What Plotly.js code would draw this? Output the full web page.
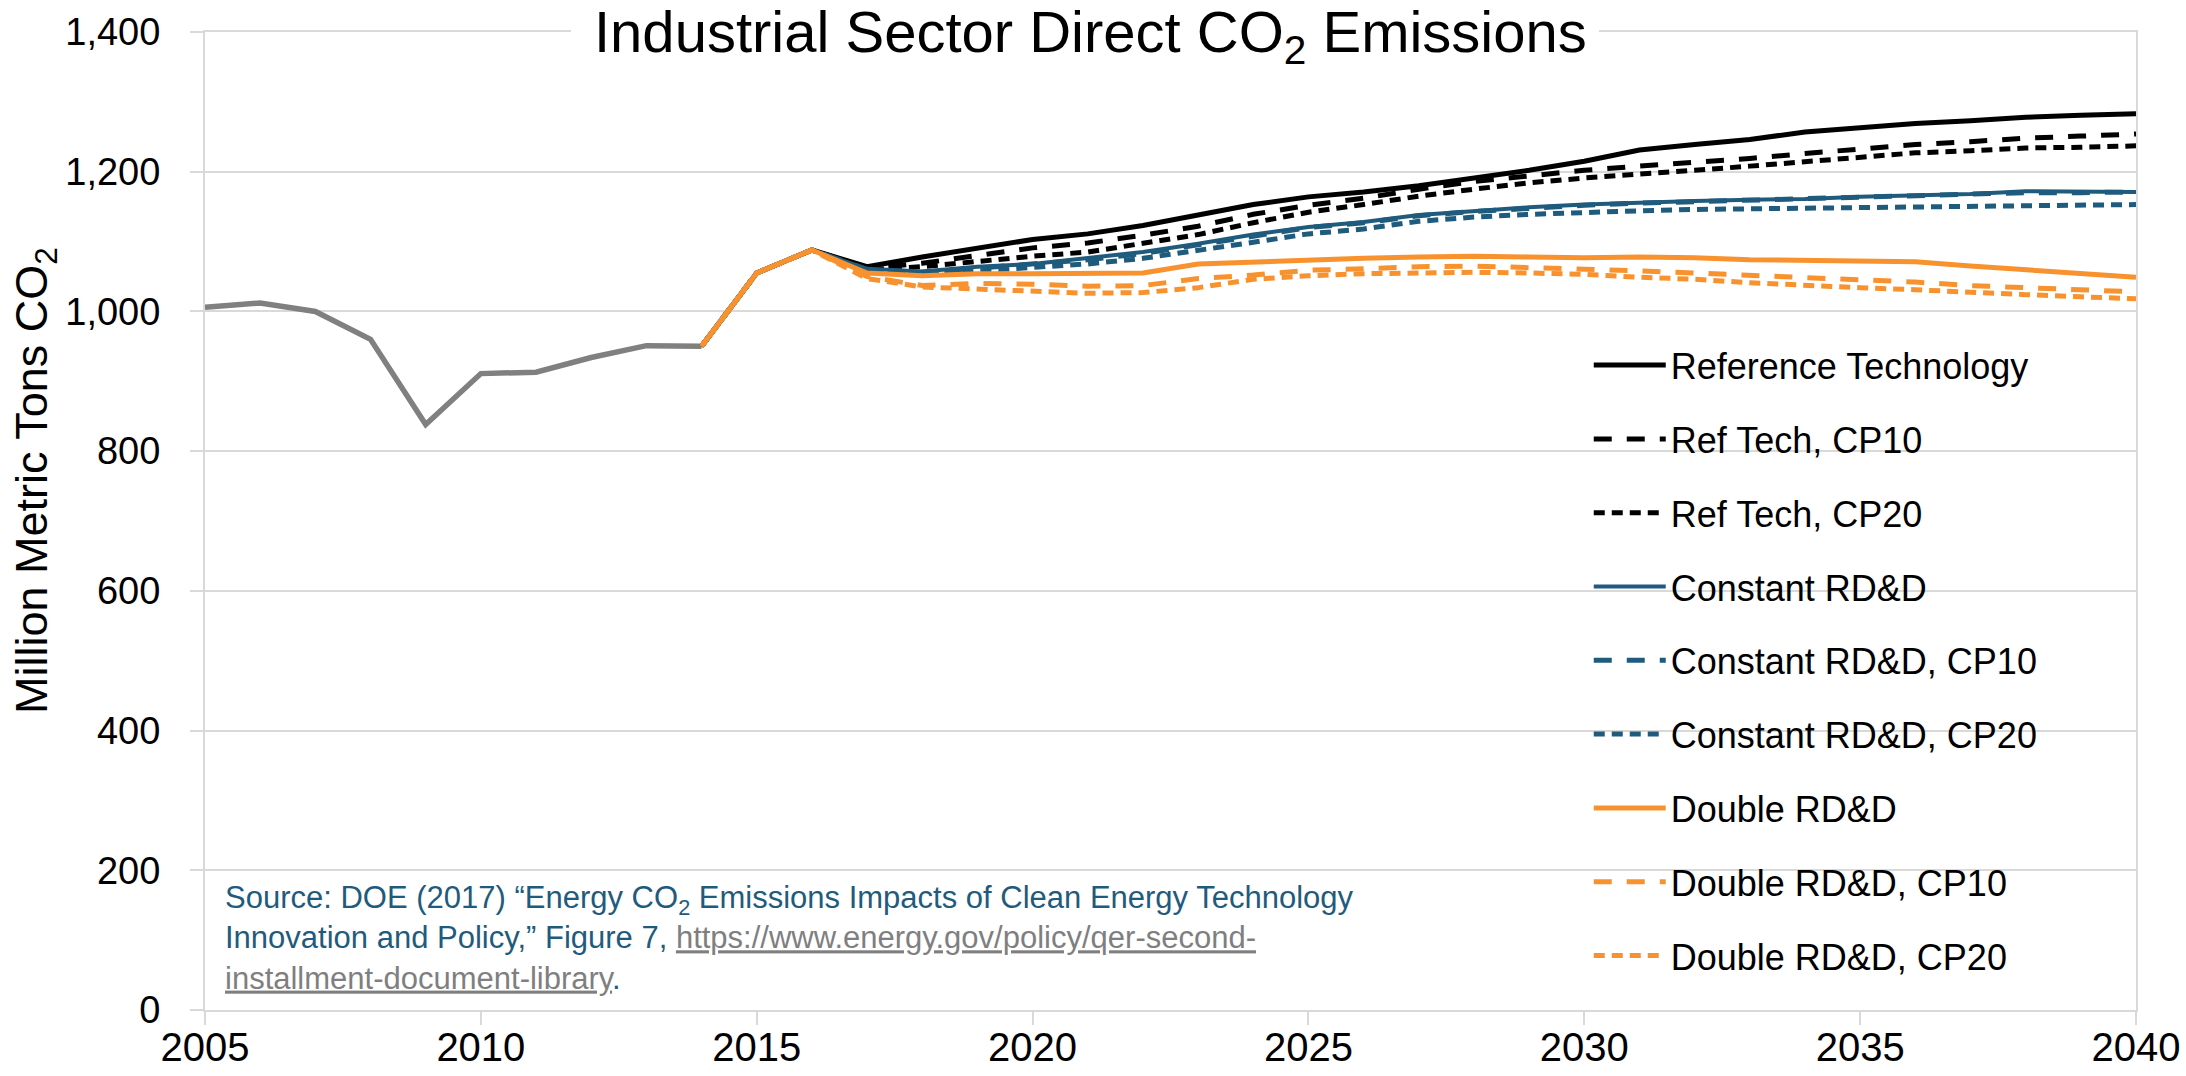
<!DOCTYPE html>
<html>
<head>
<meta charset="utf-8">
<script src="https://cdn.plot.ly/plotly-3.0.1.min.js"></script>
<style>html,body{margin:0;padding:0;background:#fff;}#chart{width:2186px;height:1076px;}</style>
</head>
<body>
<div id="chart"></div>
<script>
// ---- Data ----
var histYears = [2005,2006,2007,2008,2009,2010,2011,2012,2013,2014];
var histValues = [1006,1012,1000,960,838,911,913,934,951,950];

var scenYears = [2014,2015,2016,2017,2018,2019,2020,2021,2022,2023,2024,2025,2026,2027,2028,2029,2030,2031,2032,2033,2034,2035,2036,2037,2038,2039,2040];

var refTech     = [950,1055,1088,1064,1078,1091,1103,1111,1123,1138,1153,1164,1171,1180,1191,1202,1215,1231,1239,1246,1257,1263,1269,1273,1278,1281,1283];
var refCP10     = [950,1055,1088,1062,1069,1080,1091,1098,1109,1122,1139,1152,1162,1175,1186,1194,1202,1208,1213,1219,1226,1232,1239,1243,1248,1251,1254];
var refCP20     = [950,1055,1088,1060,1064,1072,1079,1085,1097,1110,1127,1142,1153,1165,1175,1184,1191,1196,1202,1208,1214,1221,1227,1230,1234,1235,1237];
var constRDD    = [950,1055,1088,1061,1057,1064,1068,1076,1085,1097,1110,1121,1128,1138,1144,1149,1153,1156,1158,1160,1161,1164,1166,1168,1172,1171,1171];
var constCP10   = [950,1055,1088,1060,1056,1062,1067,1074,1083,1095,1108,1120,1127,1137,1143,1148,1152,1155,1157,1159,1161,1163,1165,1167,1170,1170,1171];
var constCP20   = [950,1055,1088,1058,1055,1058,1063,1068,1076,1087,1099,1111,1118,1129,1135,1139,1142,1144,1146,1147,1148,1149,1150,1151,1152,1152,1153];
var doubleRDD   = [950,1055,1088,1055,1051,1054,1054,1054,1055,1068,1071,1073,1076,1078,1079,1078,1077,1078,1077,1074,1073,1072,1071,1065,1060,1055,1049];
var doubleCP10  = [950,1055,1088,1050,1037,1040,1039,1036,1037,1047,1052,1059,1061,1064,1065,1063,1060,1058,1055,1052,1049,1046,1042,1037,1034,1031,1028];
var doubleCP20  = [950,1055,1088,1047,1035,1032,1029,1026,1027,1034,1046,1051,1054,1055,1056,1055,1053,1049,1046,1041,1037,1034,1031,1027,1024,1021,1018];

var seriesNames = ["Reference Technology","Ref Tech, CP10","Ref Tech, CP20","Constant RD&D","Constant RD&D, CP10","Constant RD&D, CP20","Double RD&D","Double RD&D, CP10","Double RD&D, CP20"];
var seriesValues = [refTech, refCP10, refCP20, constRDD, constCP10, constCP20, doubleRDD, doubleCP10, doubleCP20];

var xTicks = [2005,2010,2015,2020,2025,2030,2035,2040];
var yTicks = [0,200,400,600,800,1000,1200,1400];

// ---- Styles ----
var BLACK = "#000000", BLUE = "#1F5B7D", ORANGE = "#F8922F", GRAY = "#808080";
var styles = [
  {color: BLACK, width: 5, dash: "solid"},
  {color: BLACK, width: 5, dash: "18px,15px"},
  {color: BLACK, width: 5, dash: "11px,7px"},
  {color: BLUE, width: 4, dash: "solid"},
  {color: BLUE, width: 5, dash: "18px,15px"},
  {color: BLUE, width: 5, dash: "11px,7px"},
  {color: ORANGE, width: 5, dash: "solid"},
  {color: ORANGE, width: 5, dash: "18px,15px"},
  {color: ORANGE, width: 5, dash: "11px,7px"}
];

var FONT = "Liberation Sans, Arial, sans-serif";

var traces = [{
  x: histYears, y: histValues, type: "scatter", mode: "lines",
  line: {color: GRAY, width: 5.5}, showlegend: false, hoverinfo: "skip"
}];
seriesNames.forEach(function(name, i){
  traces.push({
    x: scenYears, y: seriesValues[i], type: "scatter", mode: "lines",
    name: name, legendgroup: "g" + i,
    line: {color: styles[i].color, width: styles[i].width, dash: styles[i].dash}
  });
});

var layout = {
  width: 2186, height: 1076,
  margin: {l: 205, r: 50, t: 32, b: 66, pad: 0},
  paper_bgcolor: "#ffffff", plot_bgcolor: "#ffffff",
  font: {family: FONT, size: 36, color: "#000"},
  showlegend: true,
  legend: {
    x: 0.7166, y: 0.69, xanchor: "left", yanchor: "top",
    bgcolor: "rgba(0,0,0,0)", borderwidth: 0,
    font: {family: FONT, size: 36, color: "#000"},
    traceorder: "grouped", tracegroupgap: 24, itemwidth: 72
  },
  xaxis: {
    range: [2005, 2040], tickvals: xTicks, ticktext: xTicks.map(String),
    showgrid: false, zeroline: false,
    showline: true, linecolor: "#d9d9d9", linewidth: 2, mirror: true,
    ticks: "outside", ticklen: 13, tickwidth: 2, tickcolor: "#d9d9d9",
    tickfont: {family: FONT, size: 40, color: "#000"}, ticklabelstandoff: -12
  },
  yaxis: {
    range: [0, 1400], tickvals: yTicks, ticktext: yTicks.map(function(v){return v.toLocaleString("en-US");}),
    showgrid: true, gridcolor: "#d9d9d9", gridwidth: 2, zeroline: false,
    showline: true, linecolor: "#d9d9d9", linewidth: 2, mirror: true,
    ticks: "outside", ticklen: 13, tickwidth: 2, tickcolor: "#d9d9d9",
    tickfont: {family: FONT, size: 38, color: "#000"}, ticklabelstandoff: 22
  },
  shapes: [
    {
      type: "rect", xref: "paper", yref: "paper", layer: "between",
      x0: 0.7095, x1: 0.9948, y0: 0.0107, y1: 0.706,
      fillcolor: "#ffffff", line: {width: 0}
    },
    {
      type: "rect", xref: "paper", yref: "paper", layer: "above",
      x0: 0.1895, x1: 0.7219, y0: 0.992, y1: 1.008,
      fillcolor: "#ffffff", line: {width: 0}
    }
  ],
  annotations: [
    {
      text: "Industrial Sector Direct CO<sub>2</sub> Emissions",
      xref: "paper", yref: "paper", x: 0.4588, y: 0.996, xanchor: "center", yanchor: "middle",
      showarrow: false,
      font: {family: FONT, size: 58, color: "#000"}
    },
    {
      text: "Million Metric Tons CO<sub>2</sub>",
      xref: "paper", yref: "paper", x: -0.088, y: 0.541, xanchor: "center", yanchor: "middle",
      textangle: -90, showarrow: false,
      font: {family: FONT, size: 45, color: "#000"}
    },
    {
      text: "Source: DOE (2017) \u201cEnergy CO<sub>2</sub> Emissions Impacts of Clean Energy Technology<br>" +
            "Innovation and Policy,\u201d Figure 7, <span style=\"color:#7f7f7f;text-decoration:underline\">https://www.energy.gov/policy/qer-second-</span><br>" +
            "<span style=\"color:#7f7f7f;text-decoration:underline\">installment-document-library</span>.",
      xref: "paper", yref: "paper", x: 0.0093, y: 0.1354, xanchor: "left", yanchor: "top",
      align: "left", showarrow: false,
      font: {family: FONT, size: 31, color: BLUE}
    }
  ]
};

Plotly.newPlot("chart", traces, layout, {displayModeBar: false, staticPlot: true});
</script>
</body>
</html>
